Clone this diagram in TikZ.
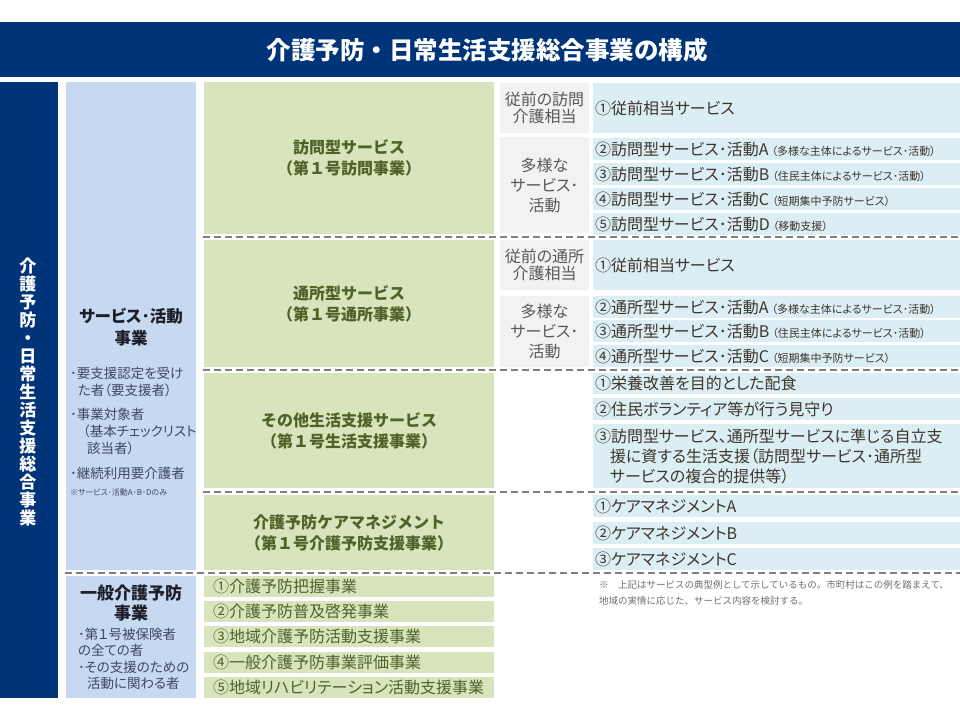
\documentclass[tikz,border=0pt]{standalone}
\usepackage{fontspec}
\setmainfont{Noto Sans CJK JP}
\newfontfamily\propfont{Noto Sans CJK JP}[RawFeature=+palt]
\definecolor{navy}{RGB}{0,52,120}
\definecolor{colblue}{RGB}{198,217,240}
\definecolor{colgreen}{RGB}{216,228,188}
\definecolor{rowblue}{RGB}{219,238,244}
\definecolor{cellgrey}{RGB}{242,242,242}
\definecolor{greentext}{RGB}{79,98,40}
\definecolor{rowtext}{RGB}{62,54,44}
\definecolor{greytext}{RGB}{89,89,89}
\definecolor{notegrey}{RGB}{110,110,110}
\definecolor{bullettext}{RGB}{62,72,100}
\definecolor{headtext}{RGB}{28,30,40}
\definecolor{dashgrey}{RGB}{128,128,128}
\newcommand\subnote[1]{\hspace{3pt}{\fontsize{11}{12}\selectfont #1}}
\tikzset{
  box/.style={anchor=north west, inner sep=0pt, outer sep=0pt},
  greenbox/.style={box, fill=colgreen, minimum width=290pt, text=greentext,
    align=center, font=\bfseries\fontsize{16}{21}\selectfont},
  greycell/.style={box, fill=cellgrey, minimum width=89pt, text=greytext,
    align=center, font=\propfont\fontsize{16}{17}\selectfont},
  bluerow/.style={box, fill=rowblue, minimum height=22pt, text width=363pt,
    inner xsep=2pt, align=left, text=rowtext, font=\propfont\fontsize{16}{20}\selectfont},
  greenrow/.style={box, fill=colgreen, minimum height=21pt, text width=272pt,
    inner xsep=9pt, align=left, text=greentext, font=\propfont\fontsize{16}{20}\selectfont},
  sepline/.style={draw=dashgrey, line width=2pt, dash pattern=on 7pt off 4pt},
}
\begin{document}
\begin{tikzpicture}[x=1pt, y=-1pt]
\useasboundingbox (0,0) rectangle (960,720);
% title
\node[box, fill=navy, minimum width=960pt, minimum height=55pt] (bar) at (0,22) {};
\node[text=white, font=\bfseries\fontsize{24.5}{28}\selectfont] (title) at (487,50)
  {介護予防・日常生活支援総合事業の構成};
% left columns
\node[box, fill=navy, minimum width=58pt, minimum height=616pt] (side) at (0,82) {};
\node[text=white, align=center, font=\bfseries\fontsize{17}{18}\selectfont] (sidetitle) at (28,392)
  {介\\護\\予\\防\\・\\日\\常\\生\\活\\支\\援\\総\\合\\事\\業};
\node[box, fill=colblue, minimum width=130pt, minimum height=488pt] (svccol) at (66,82) {};
\node[box, fill=colblue, minimum width=130pt, minimum height=122pt] (gencol) at (66,576) {};
\node[text=headtext, align=center, font=\propfont\bfseries\fontsize{16.5}{22}\selectfont] (svchead) at (131,327)
  {サービス･活動\\事業};
\node[box, text=bullettext, align=left, font=\propfont\fontsize{13.5}{17}\selectfont] (svclist) at (70,367)
  {･要支援認定を受け\\
   \hspace*{8pt}た者（要支援者）\\[7pt]
   ･事業対象者\\
   \hspace*{13pt}（基本チェックリスト\\
   \hspace*{17pt}該当者）\\[8pt]
   ･継続利用要介護者\\
   {\fontsize{8}{9}\selectfont ※サービス･活動A･B･Dのみ}};
\node[text=headtext, align=center, font=\propfont\bfseries\fontsize{17}{20}\selectfont] (genhead) at (131,603)
  {一般介護予防\\事業};
\node[box, text=bullettext, align=left, font=\propfont\fontsize{13.5}{16.5}\selectfont] (genlist) at (78,628)
  {･第１号被保険者\\
   の全ての者\\
   ･その支援のための\\
   \hspace*{9pt}活動に関わる者};
% green service boxes
\node[greenbox, minimum height=152pt] (visit) at (204,82) {訪問型サービス\\（第１号訪問事業）};
\node[greenbox, minimum height=127pt] (day) at (204,240) {通所型サービス\\（第１号通所事業）};
\node[greenbox, minimum height=115pt] (other) at (204,373) {その他生活支援サービス\\（第１号生活支援事業）};
\node[greenbox, minimum height=75pt] (care) at (204,495) {介護予防ケアマネジメント\\（第１号介護予防支援事業）};
% grey cells
\node[greycell, minimum height=50pt] (vold) at (500,83) {従前の訪問\\介護相当};
\node[greycell, minimum height=96pt, font=\propfont\fontsize{16}{20}\selectfont] (vnew) at (500,137) {多様な\\サービス･\\活動};
\node[greycell, minimum height=50pt] (dold) at (500,240) {従前の通所\\介護相当};
\node[greycell, minimum height=71pt, font=\propfont\fontsize{16}{20}\selectfont] (dnew) at (500,296) {多様な\\サービス･\\活動};
% blue rows
\node[bluerow, minimum height=50pt] (vrow1) at (593,83) {①従前相当サービス};
\foreach \y/\txt [count=\i from 2] in {
    138/{②訪問型サービス･活動A\subnote{（多様な主体によるサービス･活動）}},
    163/{③訪問型サービス･活動B\subnote{（住民主体によるサービス･活動）}},
    188/{④訪問型サービス･活動C\subnote{（短期集中予防サービス）}},
    213/{⑤訪問型サービス･活動D\subnote{（移動支援）}}}
  \node[bluerow] (vrow\i) at (593,\y) {\txt};
\node[bluerow, minimum height=50pt] (drow1) at (593,240) {①従前相当サービス};
\foreach \y/\txt [count=\i from 2] in {
    296/{②通所型サービス･活動A\subnote{（多様な主体によるサービス･活動）}},
    320/{③通所型サービス･活動B\subnote{（住民主体によるサービス･活動）}},
    345/{④通所型サービス･活動C\subnote{（短期集中予防サービス）}}}
  \node[bluerow] (drow\i) at (593,\y) {\txt};
\node[bluerow, minimum height=21pt] (orow1) at (593,373) {①栄養改善を目的とした配食};
\node[bluerow] (orow2) at (593,398) {②住民ボランティア等が行う見守り};
\node[bluerow, minimum height=64pt] (orow3) at (593,424)
  {③訪問型サービス、通所型サービスに準じる自立支\\
   \hspace*{15pt}援に資する生活支援（訪問型サービス･通所型\\
   \hspace*{15pt}サービスの複合的提供等）};
\foreach \y/\txt [count=\i] in {495/①ケアマネジメントA, 522/②ケアマネジメントB, 548/③ケアマネジメントC}
  \node[bluerow] (crow\i) at (593,\y) {\txt};
% general prevention rows
\foreach \y/\txt [count=\i] in {576/①介護予防把握事業, 601/②介護予防普及啓発事業,
    626/③地域介護予防活動支援事業, 652/④一般介護予防事業評価事業,
    677/⑤地域リハビリテーション活動支援事業}
  \node[greenrow] (grow\i) at (204,\y) {\txt};
% separators
\draw[sepline] (203,237) -- (960,237);
\draw[sepline] (203,370) -- (960,370);
\draw[sepline] (203,491.5) -- (960,491.5);
\draw[sepline] (65,573) -- (960,573);
% note
\node[box, text=notegrey, align=left, font=\fontsize{9.5}{16}\selectfont] (note) at (599,580)
  {※　上記はサービスの典型例として示しているもの。市町村はこの例を踏まえて、\\
   地域の実情に応じた、サービス内容を検討する。};
\end{tikzpicture}
\end{document}
